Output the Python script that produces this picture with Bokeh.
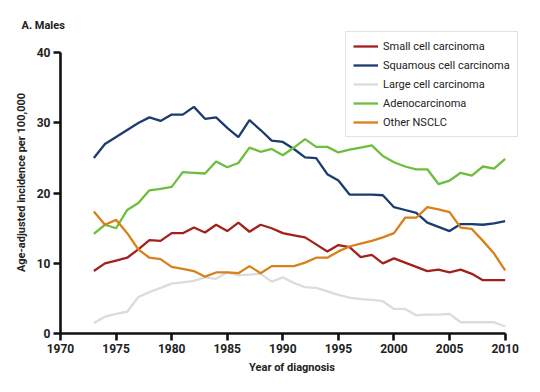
from bokeh.plotting import figure
from bokeh.models import Range1d, Legend, LegendItem, FixedTicker
from bokeh.embed import file_html
from bokeh.resources import INLINE

years = list(range(1973, 2011))
small_cell = [8.9, 10.0, 10.4, 10.8, 12.0, 13.3, 13.2, 14.3, 14.3, 15.1, 14.4, 15.5, 14.6, 15.8, 14.5, 15.5, 15.0, 14.3, 14.0, 13.7,
              12.7, 11.7, 12.6, 12.3, 10.9, 11.2, 10.0, 10.7, 10.1, 9.5, 8.9, 9.1, 8.7, 9.1, 8.5, 7.6, 7.6, 7.6]
squamous = [25.0, 27.0, 28.0, 29.0, 30.0, 30.8, 30.3, 31.2, 31.2, 32.3, 30.6, 30.8, 29.3, 28.0, 30.4, 29.0, 27.5, 27.3, 26.3, 25.1,
            25.0, 22.7, 21.8, 19.8, 19.8, 19.8, 19.7, 18.0, 17.6, 17.2, 15.8, 15.2, 14.6, 15.6, 15.6, 15.5, 15.7, 16.0]
large_cell = [1.5, 2.4, 2.8, 3.1, 5.2, 5.9, 6.5, 7.1, 7.3, 7.5, 8.0, 7.8, 8.7, 8.3, 8.4, 8.5, 7.4, 8.0, 7.2, 6.6,
              6.5, 6.0, 5.5, 5.1, 4.9, 4.8, 4.6, 3.5, 3.5, 2.6, 2.7, 2.7, 2.8, 1.6, 1.6, 1.6, 1.6, 1.0]
adeno = [14.2, 15.5, 15.0, 17.6, 18.6, 20.4, 20.6, 20.9, 23.0, 22.9, 22.8, 24.5, 23.7, 24.3, 26.5, 25.9, 26.3, 25.4, 26.5, 27.7,
         26.6, 26.6, 25.8, 26.2, 26.5, 26.8, 25.3, 24.4, 23.8, 23.4, 23.4, 21.3, 21.8, 22.9, 22.5, 23.8, 23.5, 24.9]
other = [17.4, 15.5, 16.2, 14.3, 12.0, 10.8, 10.6, 9.5, 9.2, 8.9, 8.1, 8.7, 8.7, 8.6, 9.6, 8.6, 9.6, 9.6, 9.6, 10.1,
         10.8, 10.8, 11.7, 12.4, 12.8, 13.2, 13.7, 14.3, 16.5, 16.5, 18.0, 17.7, 17.3, 15.1, 14.9, 13.2, 11.4, 9.0]

series_names = ["Small cell carcinoma", "Squamous cell carcinoma", "Large cell carcinoma", "Adenocarcinoma", "Other NSCLC"]
series_values = [small_cell, squamous, large_cell, adeno, other]
colors = ["#a3201c", "#1a3c6e", "#dcdcdc", "#6cbf3c", "#d8801a"]
x_ticks = [1970, 1975, 1980, 1985, 1990, 1995, 2000, 2005, 2010]
y_ticks = [0, 10, 20, 30, 40]

FONT = "Roboto"

p = figure(width=524, height=376, output_backend="svg", toolbar_location=None,
           x_range=Range1d(1970, 2011.65), y_range=Range1d(0, 43.04),
           min_border_left=60, min_border_right=1, min_border_top=31, min_border_bottom=43,
           title="A. Males")
p.outline_line_color = None
p.xgrid.grid_line_color = None
p.ygrid.grid_line_color = None

p.title.align = "left"
p.title.offset = -39
p.title.standoff = -1
p.title.text_font = FONT
p.title.text_font_style = "bold"
p.title.text_font_size = "11px"
p.title.text_color = "#222222"

items = []
for name, vals, c in zip(series_names, series_values, colors):
    r = p.line(years, vals, line_color=c, line_width=2.3)
    items.append(LegendItem(label=name, renderers=[r]))

for ax, ticks in ((p.xaxis[0], x_ticks), (p.yaxis[0], y_ticks)):
    ax.ticker = FixedTicker(ticks=ticks)
    ax.bounds = (ticks[0], ticks[-1])
    ax.axis_line_width = 2.6
    ax.axis_line_color = "#111111"
    ax.major_tick_line_width = 2.6
    ax.major_tick_line_color = "#111111"
    ax.major_tick_out = 7
    ax.major_tick_in = 0
    ax.minor_tick_line_color = None
    ax.major_label_text_font = FONT
    ax.major_label_text_font_style = "bold"
    ax.major_label_text_font_size = "12px"
    ax.major_label_text_color = "#222222"
    ax.axis_label_text_font = FONT
    ax.axis_label_text_font_style = "bold"
    ax.axis_label_text_font_size = "11px"
    ax.axis_label_text_color = "#222222"

p.xaxis.axis_label = "Year of diagnosis"
p.yaxis.axis_label = "Age-adjusted incidence per 100,000"
p.xaxis.major_label_standoff = 3
p.yaxis.major_label_standoff = 3
p.xaxis.axis_label_standoff = 5
p.yaxis.axis_label_standoff = 6

legend = Legend(items=items, location=(285, 196), orientation="vertical",
                label_text_font=FONT, label_text_font_size="11px", label_text_color="#222222",
                glyph_width=25, glyph_height=14, label_standoff=5, spacing=5,
                padding=7, margin=0,
                border_line_color="#c8c8c8", border_line_width=1.2,
                background_fill_color="white", background_fill_alpha=1)
p.add_layout(legend, "center")

open("out.html", "w").write(file_html(p, INLINE))
